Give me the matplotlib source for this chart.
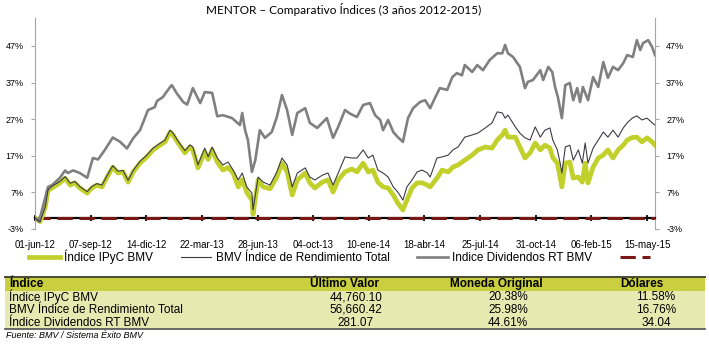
import matplotlib.pyplot as plt
from matplotlib.patches import Rectangle
from matplotlib.lines import Line2D

plt.rcParams['font.family'] = ['Liberation Sans', 'DejaVu Sans']

title = 'MENTOR – Comparativo Índices (3 años 2012-2015)'
tick_days = [0, 98, 196, 294, 392, 490, 588, 686, 784, 882, 980, 1078]
tick_labels = ['01-jun-12', '07-sep-12', '14-dic-12', '22-mar-13', '28-jun-13', '04-oct-13',
               '10-ene-14', '18-abr-14', '25-jul-14', '31-oct-14', '06-feb-15', '15-may-15']
y_ticks = [-3, 7, 17, 27, 37, 47]
last_day = 1092

# Indice Dividendos RT BMV (days since 01-jun-12, % change)
div_days = [0, 7, 12, 23, 30, 44, 53, 58, 67, 79,
            92, 102, 111, 123, 137, 150, 162, 173, 185, 199,
            211, 215, 225, 238, 241, 250, 261, 268, 278, 291,
            299, 312, 321, 331, 347, 361, 365, 370, 375, 382,
            388, 396, 405, 417, 426, 435, 444, 453, 462, 476,
            484, 497, 514, 525, 534, 546, 555, 567, 578, 590,
            599, 608, 613, 622, 631, 639, 648, 657, 666, 678,
            687, 696, 705, 713, 726, 735, 743, 752, 757, 770,
            779, 789, 801, 814, 823, 828, 833, 842, 854, 863,
            868, 877, 890, 895, 904, 911, 916, 921, 928, 934,
            942, 948, 955, 960, 965, 974, 983, 992, 1001, 1009,
            1018, 1027, 1036, 1043, 1053, 1060, 1066, 1071, 1080, 1087,
            1092]
div_vals = [0, -1, 2, 8.5, 9, 11, 13, 12.3, 13, 12.3,
            11, 16.4, 16, 18.6, 22, 20.8, 19, 21.8, 24, 29.5,
            30.3, 32, 33, 35.8, 36.3, 34, 31.7, 31, 35.5, 31.4,
            34.4, 34.2, 27.8, 28.1, 27.3, 25.4, 28.7, 24, 21.3, 12.6,
            15.8, 24, 21.9, 23.5, 27.6, 33.6, 29.5, 22.7, 28.7, 30,
            26, 24.6, 27.3, 21.9, 24.9, 29.5, 28.5, 27.6, 30.9, 31.4,
            28.1, 26.8, 24, 26.8, 23.5, 22.1, 20.8, 27.3, 30, 31.7,
            32.2, 30, 33, 35.5, 35, 38.5, 39.6, 39, 41.8, 39.9,
            41.8, 40.4, 43.2, 45, 45, 47.3, 45, 44, 41.3, 35.5,
            37.2, 37.7, 40.4, 37.7, 41.3, 39.9, 35.8, 33, 27.3, 36.3,
            36.9, 32.2, 35.5, 31.7, 35.8, 32.2, 38.5, 35.8, 42.6, 38.3,
            41.3, 40.4, 42.3, 44.5, 44, 48.6, 45.9, 47.8, 48.6, 46.7,
            44.5]

# BMV Indice de Rendimiento Total and Indice IPyC BMV, same days
bmv_days = [0, 9, 18, 23, 30, 44, 53, 62, 70, 79,
            92, 100, 109, 118, 127, 137, 146, 155, 164, 173,
            185, 197, 208, 220, 229, 238, 243, 252, 264, 273,
            278, 287, 299, 305, 312, 321, 331, 340, 349, 358,
            365, 373, 382, 384, 393, 402, 414, 426, 435, 444,
            453, 462, 476, 484, 493, 506, 516, 525, 534, 546,
            558, 567, 578, 587, 595, 604, 613, 622, 631, 639,
            648, 655, 664, 673, 682, 691, 696, 708, 717, 728,
            736, 745, 757, 770, 780, 793, 805, 814, 823, 828,
            833, 846, 854, 863, 872, 881, 890, 898, 907, 912,
            920, 925, 928, 934, 942, 948, 957, 964, 969, 974,
            983, 992, 1001, 1009, 1018, 1027, 1036, 1043, 1052, 1060,
            1069, 1078, 1087, 1092]
rend_vals = [0, -1, 3, 7.7, 8.7, 10, 11.3, 9.5, 10, 8.6,
             7.2, 8.6, 9.4, 9, 11.6, 14.3, 12.8, 13, 10.3, 13,
             15.5, 17.2, 19.1, 20.4, 21.3, 24, 23.2, 21, 18.4, 20,
             19.4, 14.5, 19.1, 16.7, 19.4, 16.4, 14.5, 15.3, 13.1, 10.4,
             12.3, 8.5, 6.8, 2.2, 11.2, 9.8, 9, 12.6, 16.4, 14.5,
             8.5, 12.3, 13.7, 11.2, 10.4, 11.7, 12.3, 9, 12.3, 16.7,
             16.4, 16.4, 18.6, 16.4, 17.2, 13.1, 12.3, 11.2, 8.5, 7.1,
             4.9, 8.5, 10.4, 12.6, 13.1, 12.3, 11.2, 16.4, 16.7, 17.2,
             18.6, 19.4, 22.1, 22.7, 23.2, 24.6, 26, 29, 28.7, 27.3,
             28.1, 24.9, 23.2, 21.9, 21.3, 24.9, 22.1, 24, 24.6, 21.3,
             18.6, 15, 12.3, 19.4, 19.9, 15.8, 18.6, 15, 20.5, 15,
             19.1, 21.3, 23.5, 22.1, 24, 22.1, 24.6, 26, 27.3, 27.9,
             26.8, 27.3, 26, 25.4]
ipyc_vals = [0, -1, 3, 7.5, 8.2, 9.6, 10.9, 9, 9.6, 8.2,
             6.8, 8.2, 9, 8.5, 11.2, 13.9, 12.3, 12.6, 9.8, 12.6,
             15, 16.7, 18.6, 19.9, 20.8, 23.5, 22.7, 20.5, 17.8, 19.4,
             18.6, 13.7, 18, 16, 18.6, 15.3, 13.1, 13.8, 12.3, 8.5,
             10.5, 7, 4.9, 1.0, 10.4, 8.5, 8, 11.2, 15, 12.6,
             6.3, 10.4, 12.3, 9.6, 8.2, 9.8, 10.4, 7.1, 10.4, 12.6,
             13.4, 12.6, 15, 12.6, 13.1, 9.8, 8.5, 8.2, 6.3, 4.1,
             2.2, 4.9, 8.2, 9.6, 9.6, 9, 8.5, 10.9, 13.1, 12.6,
             13.9, 14.5, 15.8, 17.2, 18.6, 19.4, 19.1, 21.3, 22.7, 24,
             22.1, 22.1, 19.4, 16.4, 17.8, 20.5, 18.6, 19.9, 19.1, 16.5,
             15, 11, 8.5, 15, 15.3, 10.9, 11.2, 9.8, 15, 9.6,
             13.9, 16.4, 17.2, 18.6, 16.4, 18.6, 19.9, 21.3, 22, 22.1,
             20.8, 21.9, 20.8, 19.9]

legend_labels = ['Índice IPyC BMV', 'BMV Índice de Rendimiento Total', 'Indice Dividendos RT BMV', '']

table_header = ['Índice', 'Último Valor', 'Moneda Original', 'Dólares']
table_names = ['Índice IPyC BMV', 'BMV Índice de Rendimiento Total', 'Índice Dividendos RT BMV']
table_last = ['44,760.10', '56,660.42', '281.07']
table_local = ['20.38%', '25.98%', '44.61%']
table_usd = ['11.58%', '16.76%', '34.04']
source = 'Fuente: BMV / Sistema Éxito BMV'

W, H = 709, 345


def fx(px):
    return px / W


def fy(py):
    return 1 - py / H


fig = plt.figure(figsize=(7.09, 3.45), dpi=100)
fig.patch.set_facecolor('white')
ax = fig.add_axes([fx(35), fy(229), fx(655) - fx(35), fy(18) - fy(229)])

# spine position first: moving it resets the ticks
ax.spines['top'].set_visible(False)
ax.spines['left'].set_color('#a6a6a6')
ax.spines['right'].set_color('#a6a6a6')
ax.spines['bottom'].set_position(('data', 0))
ax.spines['bottom'].set_color('black')
ax.spines['bottom'].set_linewidth(1.6)

l1, = ax.plot(bmv_days, ipyc_vals, color='#c2d02c', lw=3.4, solid_joinstyle='round', zorder=4)
l2, = ax.plot(bmv_days, rend_vals, color='#3c3c46', lw=0.8, zorder=5)
l3, = ax.plot(div_days, div_vals, color='#808080', lw=1.9, zorder=4)
l4 = ax.axhline(0, color='#7a1818', lw=2.2, dashes=(5, 2.2), zorder=3)

ax.set_xlim(0, last_day)
ax.set_ylim(-3, 54.65)
ax.set_xticks(tick_days)
ax.set_xticklabels(tick_labels)
ax.set_yticks(y_ticks)
ax.set_yticklabels([f'{v}%' for v in y_ticks])
ax.tick_params(axis='x', direction='inout', length=5, width=1.5, color='#222222', pad=13, labelsize=7)
ax.tick_params(axis='y', direction='out', length=3, color='#a6a6a6', labelright=True, right=True,
               pad=5, labelsize=6.5)

fig.text(fx(344), fy(10), title, ha='center', va='center', fontsize=8.5,
         family=['Lato', 'DejaVu Sans'])

fig.legend([l1, l2, l3, l4], legend_labels, loc='center', bbox_to_anchor=(fx(342), fy(257)),
           ncol=4, frameon=False, fontsize=8.5, handlelength=2.6, columnspacing=2.3,
           handletextpad=0.4)

# table
fig.patches.append(Rectangle((fx(5), fy(291)), fx(705) - fx(5), fy(277) - fy(291),
                             transform=fig.transFigure, facecolor='#c9cf3f', edgecolor='none'))
fig.patches.append(Rectangle((fx(5), fy(329)), fx(705) - fx(5), fy(291) - fy(329),
                             transform=fig.transFigure, facecolor='#e7eab0', edgecolor='none'))
fig.lines.append(Line2D([fx(5), fx(705)], [fy(277), fy(277)], transform=fig.transFigure,
                        color='#4a4a30', lw=1.4))
fig.lines.append(Line2D([fx(5), fx(705)], [fy(329), fy(329)], transform=fig.transFigure,
                        color='#505050', lw=1.2))

narrow = ['Liberation Sans Narrow', 'Liberation Sans', 'DejaVu Sans']
hy = fy(284)
fig.text(fx(9), hy, table_header[0], ha='left', va='center', fontsize=8.5, weight='bold', family=narrow)
fig.text(fx(345), hy, table_header[1], ha='center', va='center', fontsize=8.5, weight='bold', family=narrow)
fig.text(fx(496), hy, table_header[2], ha='center', va='center', fontsize=8.5, weight='bold', family=narrow)
fig.text(fx(642), hy, table_header[3], ha='center', va='center', fontsize=8.5, weight='bold', family=narrow)
for i, py in enumerate([297, 310, 323]):
    fig.text(fx(9), fy(py), table_names[i], ha='left', va='center', fontsize=8.5, family=narrow)
    fig.text(fx(356), fy(py), table_last[i], ha='center', va='center', fontsize=8.5, family=narrow)
    fig.text(fx(508), fy(py), table_local[i], ha='center', va='center', fontsize=8.5, family=narrow)
    fig.text(fx(656), fy(py), table_usd[i], ha='center', va='center', fontsize=8.5, family=narrow)

fig.text(fx(6), fy(336), source, ha='left', va='center', fontsize=6.5, style='italic', family=narrow)

fig.savefig('out.png', dpi=100)
